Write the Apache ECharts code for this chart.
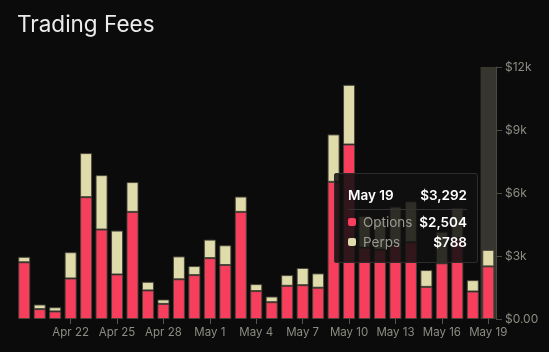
<!DOCTYPE html>
<html>
<head>
<meta charset="utf-8">
<script src="https://cdn.jsdelivr.net/npm/echarts@6/dist/echarts.min.js"></script>
<style>
  html, body { margin: 0; padding: 0; background: #0b0b0b; }
  #chart { width: 549px; height: 352px; }
</style>
</head>
<body>
<div id="chart"></div>
<script>
const dates = ['Apr 19', 'Apr 20', 'Apr 21', 'Apr 22', 'Apr 23', 'Apr 24', 'Apr 25', 'Apr 26', 'Apr 27', 'Apr 28',
  'Apr 29', 'Apr 30', 'May 1', 'May 2', 'May 3', 'May 4', 'May 5', 'May 6', 'May 7', 'May 8',
  'May 9', 'May 10', 'May 11', 'May 12', 'May 13', 'May 14', 'May 15', 'May 16', 'May 17', 'May 18', 'May 19']
const options = [2700, 470, 360, 1930, 5800, 4260, 2120, 5100, 1360, 720,
  1890, 2090, 2900, 2570, 5100, 1330, 800, 1580, 1610, 1490,
  6530, 8310, 3400, 3300, 3550, 3650, 1530, 2650, 3850, 1310, 2504]
const perps = [260, 220, 200, 1250, 2100, 2590, 2090, 1420, 410, 210,
  1090, 430, 880, 940, 730, 330, 270, 510, 820, 680,
  2260, 2840, 1500, 1400, 1800, 1950, 800, 1500, 1450, 540, 788]

const RED = '#f73e5d'
const BEIGE = '#dfdbab'
const fmt = v => '$' + Math.round(v).toLocaleString('en-US')

const chart = echarts.init(document.getElementById('chart'))

function swatch(c) {
  return '<span style="display:inline-block;width:8px;height:8px;border-radius:2px;background:' + c + ';margin-right:7px;"></span>'
}

const pointer = { type: 'shadow', z: 1, shadowStyle: { color: '#36362f', opacity: 1 } }

chart.setOption({
  backgroundColor: '#0b0b0b',
  animation: false,
  textStyle: { fontFamily: 'Inter' },
  title: {
    text: 'Trading Fees',
    left: 12,
    top: 9,
    textStyle: { color: '#ececec', fontSize: 22.5, fontWeight: 'normal', fontFamily: 'Inter' },
  },
  grid: { left: 16.5, right: 53, top: 67, bottom: 33 },
  tooltip: {
    trigger: 'axis',
    axisPointer: pointer,
    position: [334, 173],
    transitionDuration: 0,
    backgroundColor: 'rgba(16,16,16,0.86)',
    borderColor: '#2c2c2c',
    borderWidth: 1,
    padding: [11, 10, 10, 13],
    extraCssText: 'border-radius:2px;box-shadow:none;',
    formatter(params) {
      const i = params[0].dataIndex
      const total = options[i] + perps[i]
      let html = '<div style="width:119px;font-family:Inter;font-size:13.5px;line-height:20px;">'
      html += '<div style="display:flex;justify-content:space-between;color:#fff;font-weight:600;padding-bottom:4px;border-bottom:1px solid #333;margin-bottom:2px;">'
      html += '<span>' + dates[i] + '</span><span>' + fmt(total) + '</span></div>'
      html += '<div style="display:flex;justify-content:space-between;align-items:center;"><span style="color:#9a9a90;display:flex;align-items:center;">' + swatch(RED) + 'Options</span><span style="color:#fff;font-weight:600;">' + fmt(options[i]) + '</span></div>'
      html += '<div style="display:flex;justify-content:space-between;align-items:center;"><span style="color:#9a9a90;display:flex;align-items:center;">' + swatch(BEIGE) + 'Perps</span><span style="color:#fff;font-weight:600;">' + fmt(perps[i]) + '</span></div>'
      html += '</div>'
      return html
    },
  },
  xAxis: {
    type: 'category',
    data: dates,
    axisPointer: pointer,
    axisLine: { show: false },
    axisTick: {
      show: true,
      alignWithLabel: true,
      length: 5,
      interval: i => i > 0 && i % 3 === 0,
      lineStyle: { color: '#555' },
    },
    axisLabel: {
      interval: i => i > 0 && i % 3 === 0,
      color: '#8c8c84',
      fontSize: 11.5,
      margin: 8,
    },
  },
  yAxis: {
    type: 'value',
    position: 'right',
    min: 0,
    max: 12000,
    interval: 3000,
    splitLine: { show: false },
    axisLine: { show: true, lineStyle: { color: '#4a4a44' } },
    axisTick: { show: true, length: 6, lineStyle: { color: '#4a4a44' } },
    axisLabel: {
      color: '#8c8c84',
      fontSize: 12,
      margin: 9,
      formatter: v => (v === 0 ? '$0.00' : '$' + v / 1000 + 'k'),
    },
  },
  series: [
    {
      name: 'Options',
      type: 'bar',
      stack: 'fees',
      z: 3,
      data: options,
      barWidth: 12,
      itemStyle: { color: RED, borderColor: 'rgba(70,66,55,0.9)', borderWidth: 1 },
      emphasis: { disabled: true },
    },
    {
      name: 'Perps',
      type: 'bar',
      stack: 'fees',
      z: 3,
      data: perps,
      barWidth: 12,
      itemStyle: { color: BEIGE, borderColor: 'rgba(70,66,55,0.9)', borderWidth: 1 },
      emphasis: { disabled: true },
    },
  ],
})

chart.dispatchAction({ type: 'showTip', seriesIndex: 0, dataIndex: dates.length - 1 })
</script>
</body>
</html>
